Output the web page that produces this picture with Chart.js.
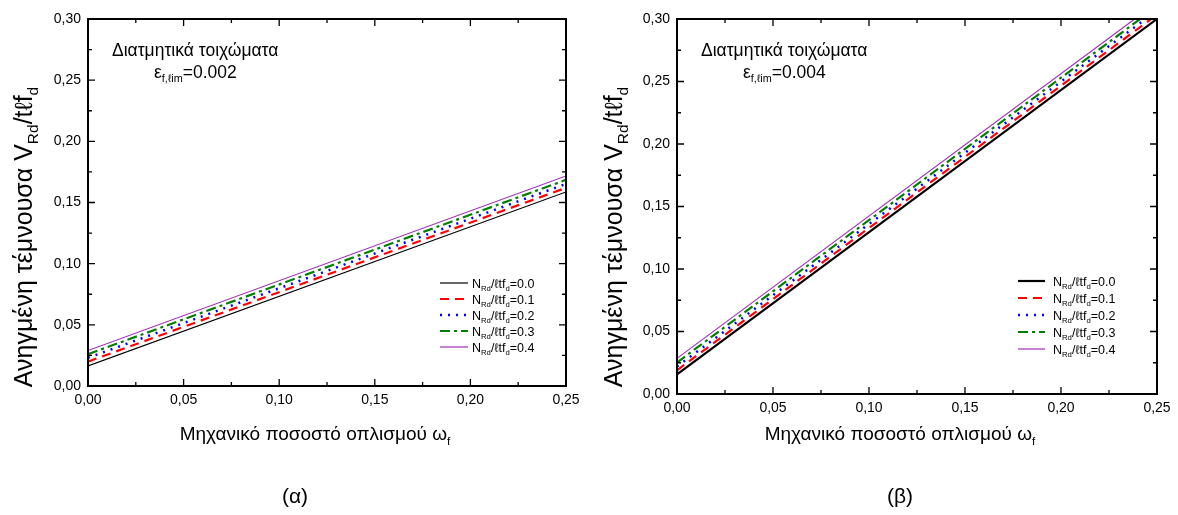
<!DOCTYPE html>
<html>
<head>
<meta charset="utf-8">
<script src="https://cdn.jsdelivr.net/npm/chart.js@4.4.1/dist/chart.umd.min.js"></script>
<style>
  html, body { margin: 0; padding: 0; background: #fff; }
  #wrap { position: relative; width: 1178px; height: 515px; overflow: hidden; }
  canvas { position: absolute; top: 0; }
</style>
</head>
<body>
<div id="wrap">
  <canvas id="chartA" width="589" height="515" style="left:0px"></canvas>
  <canvas id="chartB" width="589" height="515" style="left:589px"></canvas>
</div>
<script>
// ---------------- DATA ----------------
const omegaF = [0, 0.25];
const seriesNames = ['0.0', '0.1', '0.2', '0.3', '0.4'];
// panel (α): ε_f,ℓim = 0.002
const a_N00 = [0.0164, 0.1586];
const a_N01 = [0.0199, 0.1620];
const a_N02 = [0.0230, 0.1652];
const a_N03 = [0.0260, 0.1685];
const a_N04 = [0.0290, 0.1717];
// panel (β): ε_f,ℓim = 0.004
const b_N00 = [0.0158, 0.3000];
const b_N01 = [0.0190, 0.3035];
const b_N02 = [0.0220, 0.3068];
const b_N03 = [0.0252, 0.3100];
const b_N04 = [0.0285, 0.3132];
const xTickValues = [0, 0.05, 0.10, 0.15, 0.20, 0.25];
const yTickValues = [0, 0.05, 0.10, 0.15, 0.20, 0.25, 0.30];
const annotationLine1 = 'Διατμητικά τοιχώματα';
const epsValueA = '=0.002';
const epsValueB = '=0.004';
const xTitle = 'Μηχανικό ποσοστό οπλισμού ω';
const yTitle = 'Ανηγμένη τέμνουσα V';
const panelLabels = ['(α)', '(β)'];

// ---------------- STYLES ----------------
const FONT = '"Liberation Sans", Arial, Helvetica, sans-serif';
const styleBase = [
  { color: '#000000', width: 1.2, dash: [] },
  { color: '#ff0000', width: 2.2, dash: [9, 6] },
  { color: '#0000ff', width: 2.5, dash: [2, 6] },
  { color: '#008000', width: 2.2, dash: [10, 4, 3, 4] },
  { color: '#a030b8', width: 1.2, dash: [] }
];

function font(size) { return size + 'px ' + FONT; }

// rich text: parts = [[text, 'n'|'s'], ...]
function richWidth(ctx, parts, size) {
  let w = 0;
  for (const [t, m] of parts) {
    ctx.font = font(m === 's' ? size * 0.62 : size);
    w += ctx.measureText(t).width;
  }
  return w;
}
function drawRich(ctx, parts, x, y, size, align) {
  const w = richWidth(ctx, parts, size);
  let cx = align === 'center' ? x - w / 2 : (align === 'right' ? x - w : x);
  ctx.textAlign = 'left';
  ctx.textBaseline = 'alphabetic';
  for (const [t, m] of parts) {
    const s = m === 's' ? size * 0.62 : size;
    ctx.font = font(s);
    ctx.fillText(t, cx, m === 's' ? y + size * 0.25 : y);
    cx += ctx.measureText(t).width;
  }
}

function makePlugin(cfg) {
  return {
    id: 'decor' + cfg.key,
    afterDraw(chart) {
      const ctx = chart.ctx;
      const ca = chart.chartArea;
      const xs = chart.scales.x, ys = chart.scales.y;
      ctx.save();
      ctx.strokeStyle = '#000';
      ctx.fillStyle = '#000';
      // frame
      ctx.lineWidth = 2;
      ctx.strokeRect(ca.left, ca.top, ca.right - ca.left, ca.bottom - ca.top);
      // ticks (inside)
      ctx.lineWidth = 1.3;
      ctx.beginPath();
      xTickValues.forEach((v, i) => {
        const px = xs.getPixelForValue(v);
        ctx.moveTo(px, ca.bottom); ctx.lineTo(px, ca.bottom - 7);
        ctx.moveTo(px, ca.top); ctx.lineTo(px, ca.top + 7);
        if (i < xTickValues.length - 1) {
          const pm = xs.getPixelForValue((v + xTickValues[i + 1]) / 2);
          ctx.moveTo(pm, ca.bottom); ctx.lineTo(pm, ca.bottom - 4);
          ctx.moveTo(pm, ca.top); ctx.lineTo(pm, ca.top + 4);
        }
      });
      yTickValues.forEach((v, i) => {
        const py = ys.getPixelForValue(v);
        ctx.moveTo(ca.left, py); ctx.lineTo(ca.left + 7, py);
        ctx.moveTo(ca.right, py); ctx.lineTo(ca.right - 7, py);
        if (i < yTickValues.length - 1) {
          const pm = ys.getPixelForValue((v + yTickValues[i + 1]) / 2);
          ctx.moveTo(ca.left, pm); ctx.lineTo(ca.left + 4, pm);
          ctx.moveTo(ca.right, pm); ctx.lineTo(ca.right - 4, pm);
        }
      });
      ctx.stroke();

      // annotation
      drawRich(ctx, [[annotationLine1, 'n']], ca.left + 24, 56, 17.5, 'left');
      drawRich(ctx, [['ε', 'n'], ['f,ℓim', 's'], [cfg.eps, 'n']], ca.left + 66, 78, 17.5, 'left');

      // legend
      const L = cfg.legend;
      chart.data.datasets.forEach((ds, i) => {
        const y = L.y0 + i * L.dy;
        ctx.save();
        ctx.strokeStyle = ds.borderColor;
        ctx.lineWidth = ds.borderWidth;
        ctx.setLineDash(ds.borderDash || []);
        ctx.beginPath();
        ctx.moveTo(L.x0, y); ctx.lineTo(L.x1, y);
        ctx.stroke();
        ctx.restore();
        drawRich(ctx, [['N', 'n'], ['Rd', 's'], ['/ℓtf', 'n'], ['d', 's'], ['=' + seriesNames[i], 'n']],
          L.tx, y + 4.5, 12.5, 'left');
      });

      // x title
      drawRich(ctx, [[xTitle, 'n'], ['f', 's']], cfg.xTitleCX, cfg.xTitleY, 19, 'center');
      // y title
      ctx.save();
      ctx.translate(cfg.yTitleX, cfg.yTitleCY);
      ctx.rotate(-Math.PI / 2);
      drawRich(ctx, [[yTitle, 'n'], ['Rd', 's'], ['/tℓf', 'n'], ['d', 's']], 0, 0, 25, 'center');
      ctx.restore();
      // panel label
      drawRich(ctx, [[cfg.panel, 'n']], cfg.panelX, 503, 21, 'center');
      ctx.restore();
    }
  };
}

function buildChart(canvasId, series, cfg) {
  const W = 589, H = 515;
  const datasets = series.map((vals, i) => ({
    label: 'N_Rd/ℓtf_d=' + seriesNames[i],
    data: omegaF.map((x, j) => ({ x: x, y: vals[j] })),
    borderColor: styleBase[i].color,
    borderWidth: (i === 0 && cfg.thickBlack) ? 2.2 : styleBase[i].width,
    borderDash: styleBase[i].dash,
    pointRadius: 0,
    fill: false,
    tension: 0
  }));
  const fmt = v => Number(v).toFixed(2).replace('.', ',');
  return new Chart(document.getElementById(canvasId), {
    type: 'line',
    data: { datasets },
    options: {
      responsive: false,
      animation: false,
      events: [],
      layout: { padding: { left: 0, top: cfg.top, right: W - cfg.right, bottom: 0 } },
      plugins: { legend: { display: false }, tooltip: { enabled: false } },
      scales: {
        x: {
          type: 'linear', min: 0, max: 0.25,
          afterBuildTicks: s => { s.ticks = xTickValues.map(v => ({ value: v })); },
          grid: { display: false, drawTicks: false },
          border: { display: false },
          ticks: { padding: 6, color: '#000', font: { family: FONT, size: 14 }, callback: fmt, maxRotation: 0, autoSkip: false },
          afterFit: s => { s.height = H - cfg.bottom; }
        },
        y: {
          type: 'linear', min: 0, max: 0.30,
          afterBuildTicks: s => { s.ticks = yTickValues.map(v => ({ value: v })); },
          grid: { display: false, drawTicks: false },
          border: { display: false },
          ticks: { padding: 7, color: '#000', font: { family: FONT, size: 14 }, callback: fmt, autoSkip: false },
          afterFit: s => { s.width = cfg.left; }
        }
      }
    },
    plugins: [makePlugin(cfg)]
  });
}

buildChart('chartA', [a_N00, a_N01, a_N02, a_N03, a_N04], {
  key: 'A', left: 88, right: 566, top: 19, bottom: 386, eps: epsValueA, thickBlack: false,
  legend: { x0: 440, x1: 468, tx: 472, y0: 283, dy: 16 },
  xTitleCX: 315, xTitleY: 440, yTitleX: 32, yTitleCY: 237, panel: panelLabels[0], panelX: 295
});
buildChart('chartB', [b_N00, b_N01, b_N02, b_N03, b_N04], {
  key: 'B', left: 88, right: 568, top: 19, bottom: 394, eps: epsValueB, thickBlack: true,
  legend: { x0: 429, x1: 456, tx: 464, y0: 281, dy: 17 },
  xTitleCX: 311, xTitleY: 440, yTitleX: 33, yTitleCY: 237, panel: panelLabels[1], panelX: 311
});
</script>
</body>
</html>
